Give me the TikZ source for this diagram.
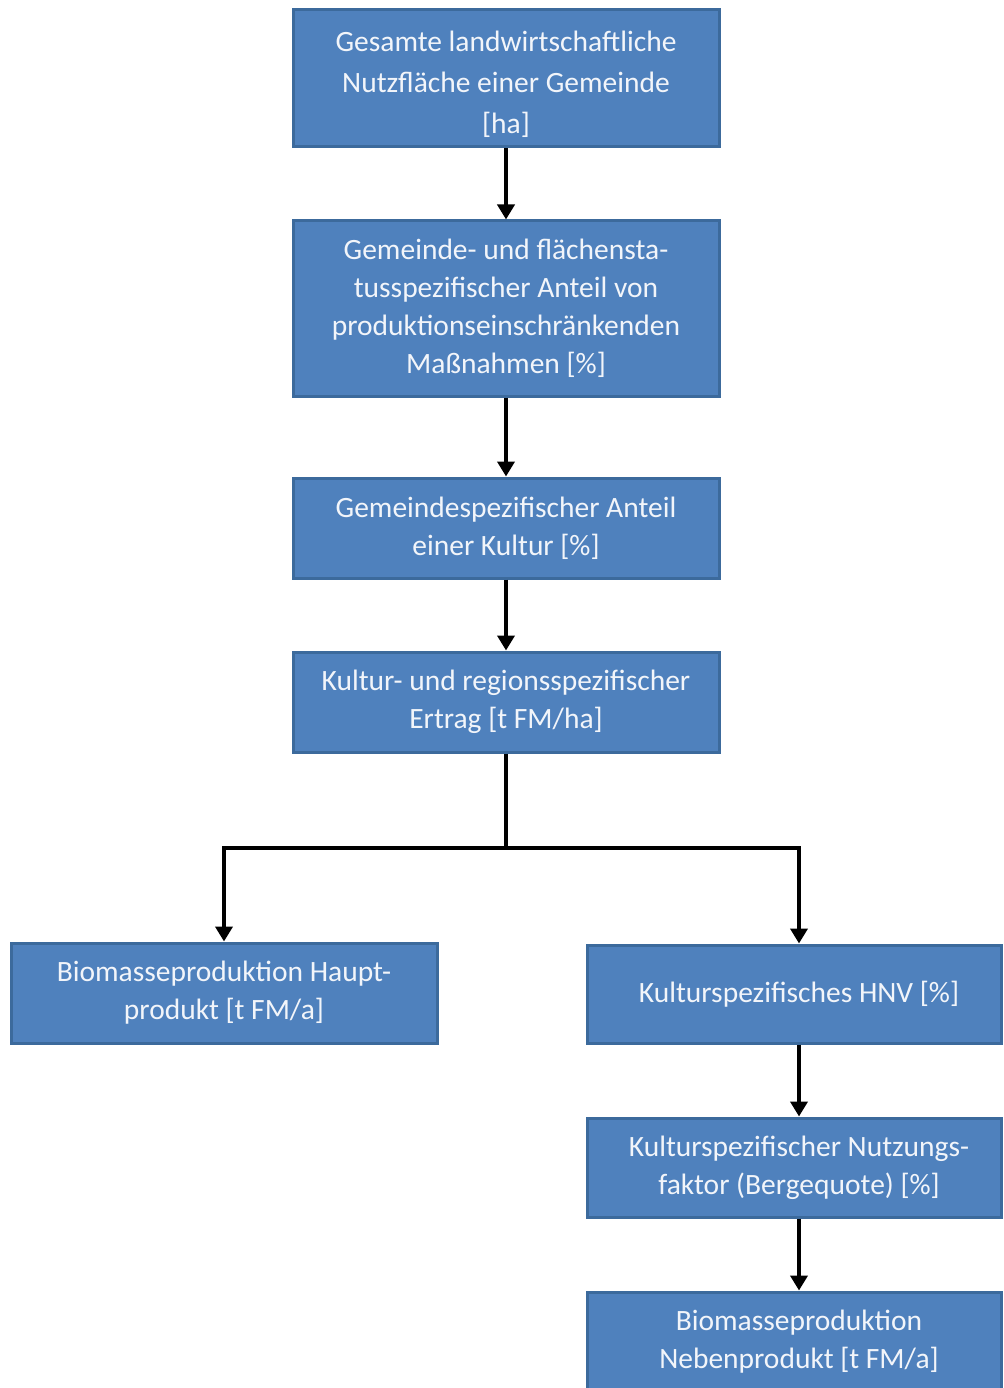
\documentclass[tikz,border=0pt]{standalone}
\usepackage{fontspec}
\setmainfont{Carlito}
\usetikzlibrary{arrows.meta}
\definecolor{boxfill}{HTML}{4F81BD}
\definecolor{boxline}{HTML}{3C6A9C}
\definecolor{boxtext}{HTML}{F2F5FA}
% small right offset of the text in the right-hand column
\newcommand{\rpad}{\hspace*{10pt}}
\tikzset{
  flowbox/.style={draw=boxline, fill=boxfill, line width=3pt, minimum width=426pt,
    inner sep=0pt, align=center, text=boxtext,
    font=\fontsize{29.5}{38}\selectfont},
  rightbox/.style={flowbox, minimum width=414pt},
  flowarrow/.style={line width=4.5pt, -{Triangle[width=17pt,length=15pt]}, black},
  flowline/.style={line width=4.5pt, black}
}
\begin{document}
\begin{tikzpicture}[x=1pt,y=-1pt]
\useasboundingbox (0,0) rectangle (1003,1388);
\clip (0,0) rectangle (1003,1388);
\node[flowbox, minimum height=137pt, font=\fontsize{29.5}{41}\selectfont] (b1) at (506,78.5)
  {\rule{0pt}{32pt}Gesamte landwirtschaftliche\\Nutzfläche einer Gemeinde\\{}[ha]};
\node[flowbox, minimum height=175pt] (b2) at (506,308.5)
  {Gemeinde- und flächensta-\\tusspezifischer Anteil von\\produktionseinschränkenden\\Maßnahmen [\%]};
\node[flowbox, minimum height=100pt] (b3) at (506,528)
  {Gemeindespezifischer Anteil\\einer Kultur [\%]};
\node[flowbox, minimum height=100pt] (b4) at (506,702)
  {Kultur- und regionsspezifischer\\Ertrag [t FM/ha]};
\node[flowbox, minimum height=100pt] (b5) at (224,993)
  {Biomasseproduktion Haupt-\\produkt [t FM/a]};
\node[rightbox, minimum height=98pt] (b6) at (794,994)
  {\rpad Kulturspezifisches HNV [\%]};
\node[rightbox, minimum height=99pt] (b7) at (794,1167.5)
  {\rpad Kulturspezifischer Nutzungs-\\\rpad faktor (Bergequote) [\%]};
\node[rightbox, minimum height=130pt] (b8) at (794,1357)
  {\rpad Biomasseproduktion\\\rpad Nebenprodukt [t FM/a]\rule[-35pt]{0pt}{0pt}};
\coordinate (fork) at (506,848);
\coordinate (rcol) at (799,848);

\draw[flowarrow] (b1.south) -- (b2.north);
\draw[flowarrow] (b2.south) -- (b3.north);
\draw[flowarrow] (b3.south) -- (b4.north);
\draw[flowline] (b4.south) -- (fork);
\draw[flowarrow] (fork) -| (b5.north);
\draw[flowarrow] (fork) -- (rcol) -- (rcol |- b6.north);
\draw[flowarrow] (rcol |- b6.south) -- (rcol |- b7.north);
\draw[flowarrow] (rcol |- b7.south) -- (rcol |- b8.north);
\end{tikzpicture}
\end{document}
